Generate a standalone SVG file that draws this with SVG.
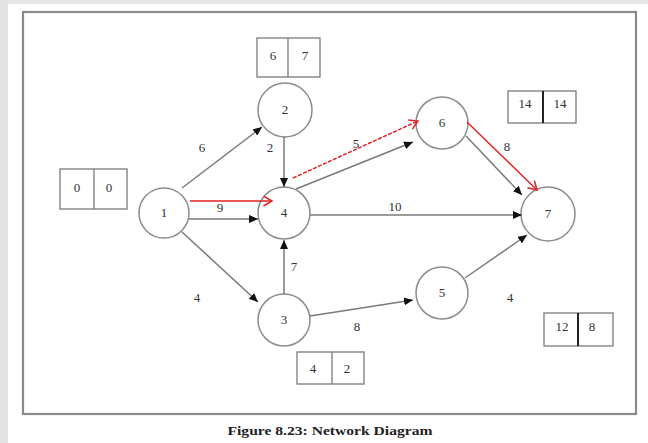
<svg xmlns="http://www.w3.org/2000/svg" width="648" height="443" viewBox="0 0 648 443">
  <style>
    .node circle { fill: #fff; stroke: #8c8c8c; stroke-width: 1.5; }
    .lbl { font-family: "Liberation Serif", serif; font-size: 13px; fill: #333; text-anchor: middle; }
    .box rect { fill: #fff; stroke: #7a7a7a; stroke-width: 1.3; }
    .box line { stroke: #7a7a7a; stroke-width: 1.3; }
    .box line.bold { stroke: #222; stroke-width: 2; }
    .edge { fill: none; stroke: #7a7a7a; stroke-width: 1.5; marker-end: url(#ah); }
    .crit { fill: none; stroke: #e32222; stroke-width: 1.5; marker-end: url(#rh); }
    .caption { font-family: "Liberation Serif", serif; font-size: 12px; font-weight: bold; fill: #222; text-anchor: middle; }
  </style>
  <defs>
    <marker id="ah" markerWidth="10" markerHeight="8" refX="9" refY="4" orient="auto" markerUnits="userSpaceOnUse">
      <path d="M0,0 L9,4 L0,8 Z" fill="#111"/>
    </marker>
    <marker id="rh" markerWidth="12" markerHeight="12" refX="9" refY="5.5" orient="auto" markerUnits="userSpaceOnUse">
      <path d="M0.5,0.5 L9,5.5 L0.5,10.5" fill="none" stroke="#e32222" stroke-width="1.5"/>
    </marker>
  </defs>

  <rect x="0" y="0" width="648" height="443" fill="#fff"/>
  <rect x="0" y="0" width="648" height="4" fill="#e6e6e6"/>
  <rect x="0" y="0" width="8" height="443" fill="#e4e4e4"/>
  <rect id="frame" x="23" y="12" width="613" height="402" fill="#fff" stroke="#8a8a8a" stroke-width="2.2"/>

  <g id="node-1" class="node"><circle cx="164" cy="213" r="25"/><text class="lbl" x="164" y="217">1</text></g>
  <g id="node-2" class="node"><circle cx="285" cy="110" r="27"/><text class="lbl" x="285" y="114">2</text></g>
  <g id="node-3" class="node"><circle cx="284" cy="320" r="26"/><text class="lbl" x="284" y="324">3</text></g>
  <g id="node-4" class="node"><circle cx="284" cy="213" r="26"/><text class="lbl" x="284" y="217">4</text></g>
  <g id="node-5" class="node"><circle cx="442" cy="293" r="26"/><text class="lbl" x="442" y="297">5</text></g>
  <g id="node-6" class="node"><circle cx="442" cy="123" r="26"/><text class="lbl" x="442" y="127">6</text></g>
  <g id="node-7" class="node"><circle cx="548" cy="214" r="27"/><text class="lbl" x="548" y="218">7</text></g>

  <g id="box-1" class="box"><rect x="60" y="169" width="67" height="40"/><line x1="94" y1="169" x2="94" y2="209"/><text class="lbl" x="77" y="192">0</text><text class="lbl" x="109" y="192">0</text></g>
  <g id="box-2" class="box"><rect x="257" y="38" width="63" height="39"/><line x1="288" y1="38" x2="288" y2="77"/><text class="lbl" x="273" y="60">6</text><text class="lbl" x="305" y="60">7</text></g>
  <g id="box-3" class="box"><rect x="297" y="352" width="67" height="32"/><line x1="332" y1="352" x2="332" y2="384"/><text class="lbl" x="313" y="373">4</text><text class="lbl" x="347" y="373">2</text></g>
  <g id="box-6" class="box"><rect x="508" y="91" width="68" height="32"/><line class="bold" x1="543" y1="91" x2="543" y2="123"/><text class="lbl" x="525" y="108">14</text><text class="lbl" x="560" y="108">14</text></g>
  <g id="box-5" class="box"><rect x="544" y="313" width="69" height="33"/><line class="bold" x1="578" y1="313" x2="578" y2="346"/><text class="lbl" x="562" y="331">12</text><text class="lbl" x="592" y="331">8</text></g>

  <g id="connectors">
    <path class="edge" d="M182,188 L262,127"/>
    <path class="edge" d="M284,137 L284,187"/>
    <path class="edge" d="M189,219 L258,219"/>
    <path class="crit" d="M190,201 L272,201"/>
    <path class="edge" d="M296,189 L413,142"/>
    <path class="crit" stroke-dasharray="4,1.5" d="M293,178 L418,121"/>
    <path class="edge" d="M310,215 L522,215"/>
    <path class="edge" d="M466,136 L522,195"/>
    <path class="crit" d="M467,122 L537,190"/>
    <path class="edge" d="M284,294 L284,240"/>
    <path class="edge" d="M182,232 L258,302"/>
    <path class="edge" d="M310,316 L413,300"/>
    <path class="edge" d="M465,278 L527,235"/>
    <g id="edge-labels">
      <text class="lbl" x="202" y="152">6</text>
      <text class="lbl" x="270" y="152">2</text>
      <text class="lbl" x="220" y="212">9</text>
      <text class="lbl" x="356" y="148">5</text>
      <text class="lbl" x="395" y="211">10</text>
      <text class="lbl" x="507" y="151">8</text>
      <text class="lbl" x="294" y="271">7</text>
      <text class="lbl" x="197" y="302">4</text>
      <text class="lbl" x="357" y="331">8</text>
      <text class="lbl" x="510" y="302">4</text>
    </g>
  </g>

  <text class="caption" x="330" y="435" textLength="205" lengthAdjust="spacingAndGlyphs">Figure 8.23: Network Diagram</text>
</svg>
